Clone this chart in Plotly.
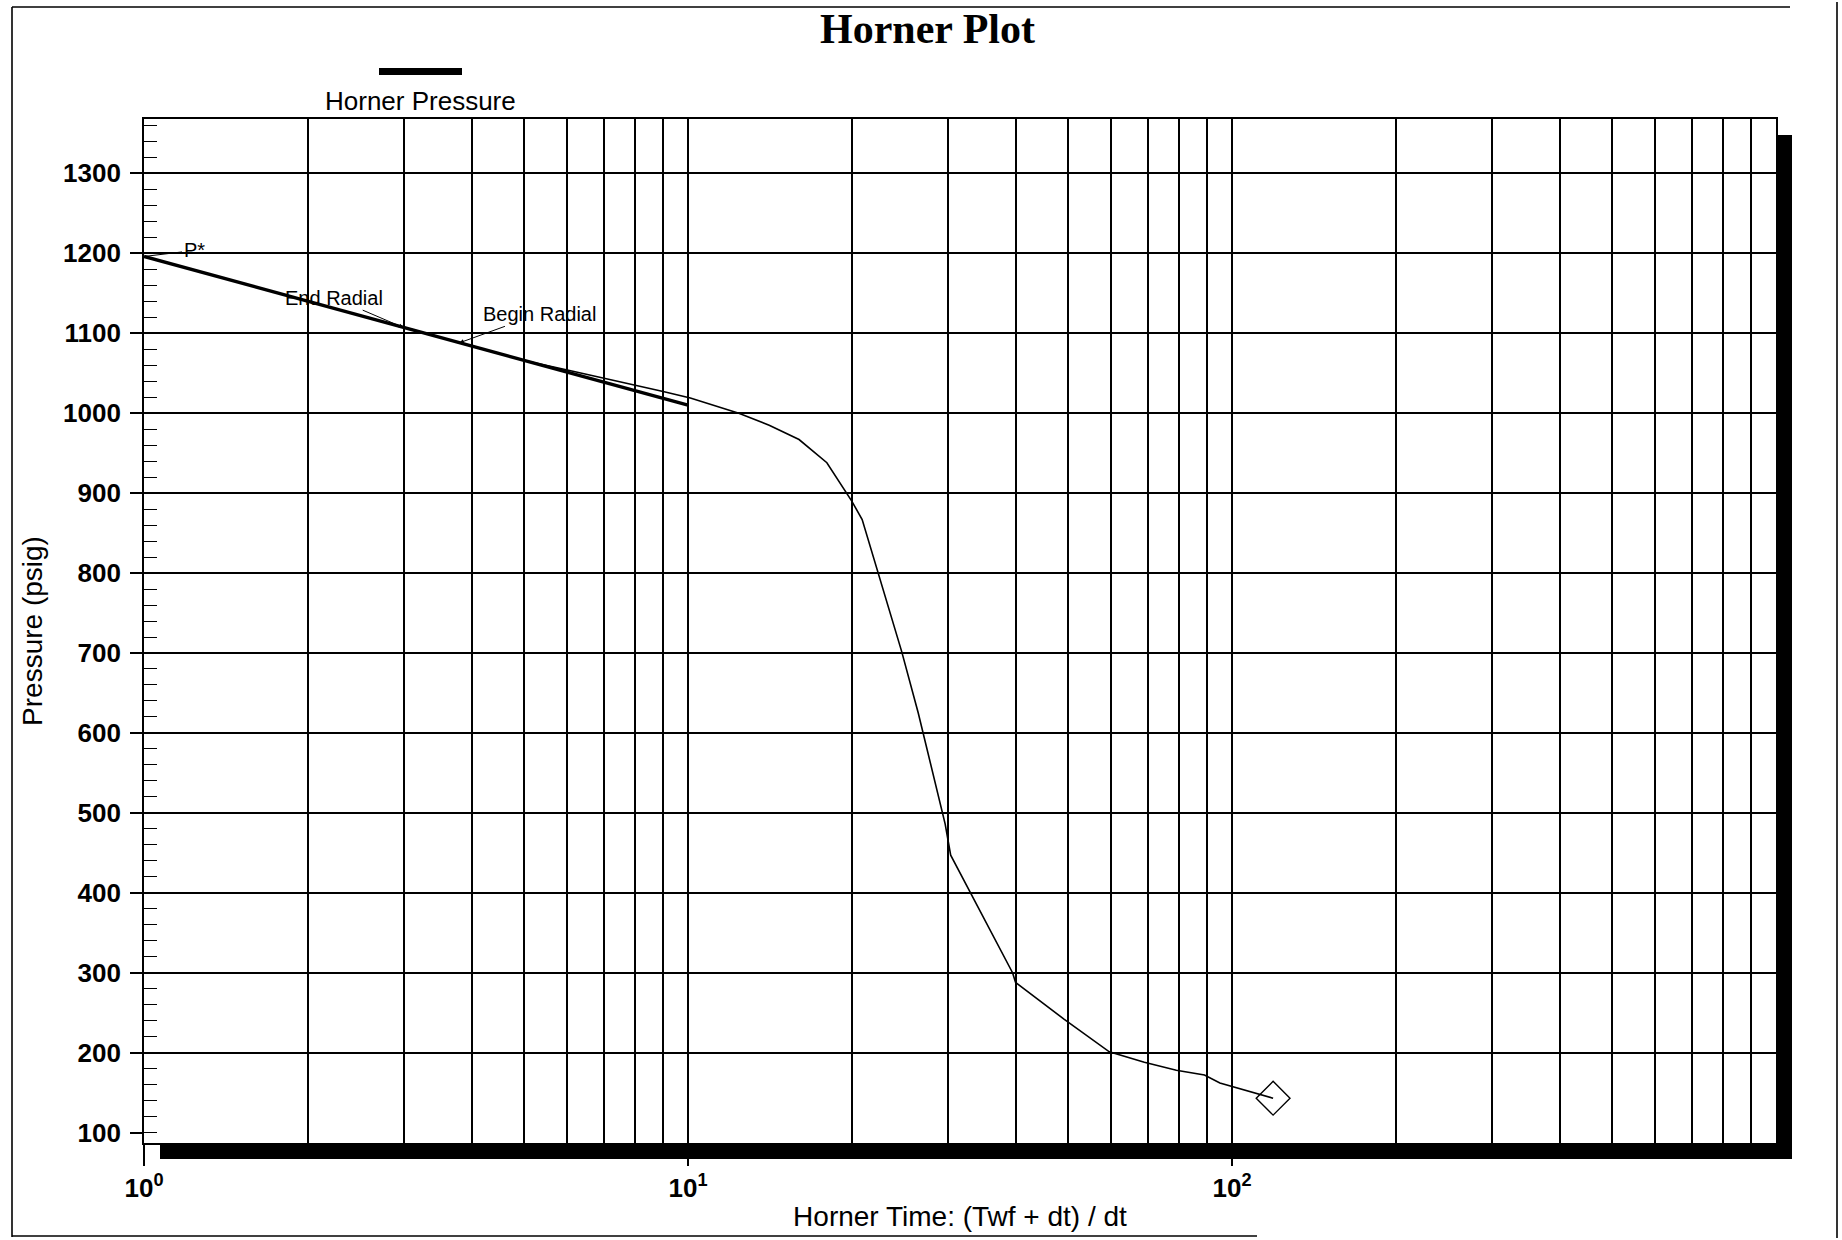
import plotly.graph_objects as go

# ---------------- data ----------------
HORNER_TIME = [2.95, 3.4, 3.9, 4.5, 5.0, 6.0, 6.9, 8.0, 9.0, 10.1, 12.4, 14.1, 16.0,
               18.0, 20.0, 20.9, 22.4, 24.7, 26.5, 29.7, 30.4, 33.0, 39.5, 40.0,
               49.1, 59.5, 69.0, 79.0, 89.0, 95.0, 119.0]
PRESSURE = [1109, 1097, 1086, 1074.5, 1066, 1054, 1045, 1035, 1027, 1019, 1000, 985, 967,
            938, 890, 867, 798, 702, 625, 486, 447, 401, 300, 288,
            242, 201, 188, 178, 172, 162, 143]

FIT_TIME = [1.0, 10.0]
FIT_PRESSURE = [1196, 1010]

LAST_TIME = [119.0]
LAST_PRESSURE = [143]

P_STAR = (1.0, 1196)
END_RADIAL = (3.0, 1107)
BEGIN_RADIAL = (3.8, 1088)

X_TICKS = [1, 10, 100]
X_TICK_TEXT = ["10<sup>0</sup>", "10<sup>1</sup>", "10<sup>2</sup>"]
X_MINOR = [2, 3, 4, 5, 6, 7, 8, 9, 20, 30, 40, 50, 60, 70, 80, 90,
           200, 300, 400, 500, 600, 700, 800, 900]
Y_TICKS = [100, 200, 300, 400, 500, 600, 700, 800, 900, 1000, 1100, 1200, 1300]
Y_GRID = [200, 300, 400, 500, 600, 700, 800, 900, 1000, 1100, 1200, 1300]

# ---------------- layout geometry ----------------
W, H = 1842, 1240
PL, PR, PT, PB = 144, 1776, 119, 1143
SANS = "Liberation Sans, Arial, sans-serif"
SERIF = "Liberation Serif, Times New Roman, serif"


def px(x):
    return (x - PL) / (PR - PL)


def py(y):
    return (PB - y) / (PB - PT)


fig = go.Figure()

fig.add_trace(go.Scatter(x=HORNER_TIME, y=PRESSURE, mode="lines",
                         line=dict(color="black", width=1.6),
                         showlegend=False, hoverinfo="x+y"))
fig.add_trace(go.Scatter(x=FIT_TIME, y=FIT_PRESSURE, mode="lines",
                         line=dict(color="black", width=3.4),
                         showlegend=False, hoverinfo="x+y"))
fig.add_trace(go.Scatter(x=LAST_TIME, y=LAST_PRESSURE, mode="markers",
                         marker=dict(symbol="diamond-open", size=26,
                                     color="black", line=dict(width=1.4)),
                         showlegend=False, hoverinfo="x+y"))
# helper trace so the overlay axis carrying the horizontal grid is drawn
fig.add_trace(go.Scatter(x=[1], y=[Y_GRID[0]], yaxis="y2", mode="markers",
                         marker=dict(opacity=0), showlegend=False,
                         hoverinfo="skip"))

shapes = []
# drop shadow (right and bottom)
SH = 16
shapes.append(dict(type="rect", xref="paper", yref="paper",
                   x0=px(PR), x1=px(PR + SH), y0=py(PB + SH), y1=py(PT + SH),
                   fillcolor="black", line=dict(width=0), layer="above"))
shapes.append(dict(type="rect", xref="paper", yref="paper",
                   x0=px(PL + SH), x1=px(PR + SH), y0=py(PB + SH), y1=py(PB),
                   fillcolor="black", line=dict(width=0), layer="above"))
# legend swatch
shapes.append(dict(type="rect", xref="paper", yref="paper",
                   x0=px(379), x1=px(462), y0=py(75), y1=py(68),
                   fillcolor="black", line=dict(width=0)))
# outer page border
for (x0, y0, x1, y1) in [(12, 7, 1790, 7), (12, 7, 12, 1237),
                         (1837, 2, 1837, 1238), (12, 1236, 1257, 1236)]:
    shapes.append(dict(type="line", xref="paper", yref="paper",
                       x0=px(x0), y0=py(y0), x1=px(x1), y1=py(y1),
                       line=dict(color="black", width=1.6)))

annotations = [
    dict(text="<b>Horner Plot</b>", xref="paper", yref="paper",
         x=px(927), y=py(29), xanchor="center", yanchor="middle",
         showarrow=False, font=dict(family=SERIF, size=42, color="black")),
    dict(text="Horner Pressure", xref="paper", yref="paper",
         x=px(420), y=py(101), xanchor="center", yanchor="middle",
         showarrow=False, font=dict(family=SANS, size=26, color="black")),
    dict(text="P*", x=0, y=P_STAR[1], xref="x", yref="y",
         ax=50, ay=-6, showarrow=True, arrowhead=0, arrowwidth=1,
         arrowcolor="black", font=dict(family=SANS, size=20, color="black")),
    dict(text="End Radial", x=0.4771, y=END_RADIAL[1], xref="x", yref="y",
         ax=-70, ay=-30, showarrow=True, arrowhead=2, arrowsize=0.9,
         arrowwidth=1, arrowcolor="black",
         font=dict(family=SANS, size=20, color="black")),
    dict(text="Begin Radial", x=0.5798, y=BEGIN_RADIAL[1], xref="x", yref="y",
         ax=80, ay=-29, showarrow=True, arrowhead=2, arrowsize=0.9,
         arrowwidth=1, arrowcolor="black",
         font=dict(family=SANS, size=20, color="black")),
]

fig.update_layout(
    width=W, height=H,
    margin=dict(l=PL, r=W - PR, t=PT, b=H - PB, autoexpand=False),
    paper_bgcolor="white", plot_bgcolor="white",
    showlegend=False,
    shapes=shapes, annotations=annotations,
    xaxis=dict(
        type="log", range=[0, 3],
        tickmode="array", tickvals=X_TICKS, ticktext=X_TICK_TEXT,
        ticks="outside", ticklen=21, tickwidth=1.6, tickcolor="black",
        ticklabelstandoff=0,
        tickfont=dict(family=SANS, size=26, color="black", weight="bold"),
        showgrid=True, gridcolor="black", gridwidth=2,
        minor=dict(tickmode="array", tickvals=X_MINOR, showgrid=True,
                   gridcolor="black", gridwidth=2, ticks=""),
        showline=True, linecolor="black", linewidth=1.8, mirror=True,
        zeroline=False,
        title=dict(text="Horner Time: (Twf + dt) / dt", standoff=4,
                   font=dict(family=SANS, size=28, color="black")),
    ),
    yaxis=dict(
        range=[87, 1368],
        tickmode="array", tickvals=Y_TICKS,
        ticks="outside", ticklen=12, tickwidth=1.6, tickcolor="black",
        ticklabelstandoff=4,
        tickfont=dict(family=SANS, size=26, color="black", weight="bold"),
        showgrid=False,
        minor=dict(tickmode="linear", tick0=0, dtick=20, ticks="inside",
                   ticklen=13, tickwidth=1.4, tickcolor="black", showgrid=False),
        showline=True, linecolor="black", linewidth=1.8, mirror=True,
        zeroline=False,
        title=dict(text="Pressure (psig)", standoff=12,
                   font=dict(family=SANS, size=28, color="black")),
    ),
    yaxis2=dict(
        overlaying="y", anchor="x", side="left", range=[87, 1368],
        tickmode="array", tickvals=Y_GRID, showticklabels=False, ticks="",
        showgrid=True, gridcolor="black", gridwidth=1.6,
        showline=False, zeroline=False,
    ),
)

fig.write_html("out.html",
               config={"displayModeBar": False},
               post_script="document.body.style.margin='0';"
                           "document.body.style.overflow='hidden';")
